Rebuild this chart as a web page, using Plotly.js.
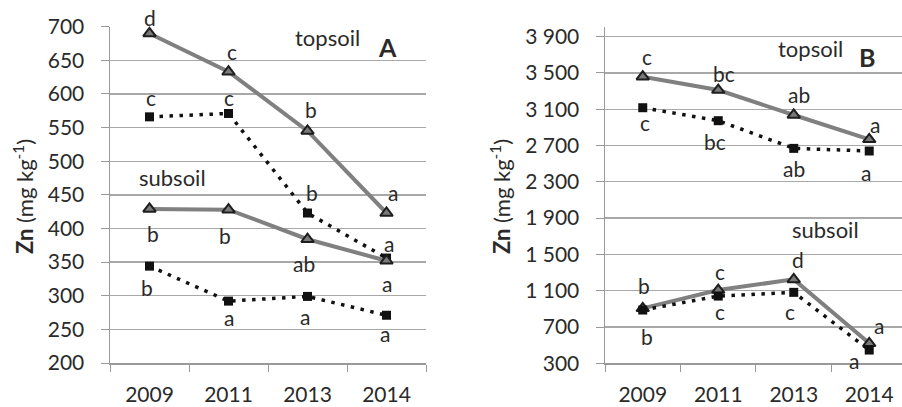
<!DOCTYPE html>
<html>
<head>
<meta charset="utf-8">
<script src="https://cdn.plot.ly/plotly-3.0.1.min.js"></script>
<style>html,body{margin:0;padding:0;background:#fff;}#chart{width:902px;height:407px;}</style>
</head>
<body>
<div id="chart"></div>
<script>
// ---- data ----
var years = ["2009", "2011", "2013", "2014"];

// Panel A (Zn, mg kg-1)
var aTopSolid = [690, 633, 545, 423];
var aTopDotted = [566, 571, 423, 356];
var aSubSolid = [429, 428, 384, 352];
var aSubDotted = [344, 292, 299, 271];

var aTopSolidLetters = ["d", "c", "b", "a"];
var aTopDottedLetters = ["c", "c", "b", "a"];
var aSubSolidLetters = ["b", "b", "ab", "a"];
var aSubDottedLetters = ["b", "a", "a", "a"];

// Panel B (Zn, mg kg-1)
var bTopSolid = [3459, 3312, 3037, 2769];
var bTopDotted = [3117, 2974, 2669, 2640];
var bSubSolid = [906, 1107, 1225, 520];
var bSubDotted = [887, 1041, 1082, 446];

var bTopSolidLetters = ["c", "bc", "ab", "a"];
var bTopDottedLetters = ["c", "bc", "ab", "a"];
var bSubSolidLetters = ["b", "c", "d", "a"];
var bSubDottedLetters = ["b", "c", "c", "a"];

var aTicks = [200, 250, 300, 350, 400, 450, 500, 550, 600, 650, 700];
var aTickText = ["200", "250", "300", "350", "400", "450", "500", "550", "600", "650", "700"];
var bTicks = [300, 700, 1100, 1500, 1900, 2300, 2700, 3100, 3500, 3900];
var bTickText = ["300", "700", "1 100", "1 500", "1 900", "2 300", "2 700", "3 100", "3 500", "3 900"];

// ---- label offsets (px) [xshift, yshift] ----
var offATopSolid = [[0, 16], [3, 20], [3, 21], [6, 21]];
var offATopDotted = [[1, 19], [0, 16], [4, 21], [2, 15]];
var offASubSolid = [[3, -25], [-4, -26], [-4, -24], [0, -23]];
var offASubDotted = [[-3, -21], [0, -16], [-3, -20], [-2, -18]];
var offBTopSolid = [[4, 20], [6, 17], [5, 20], [6, 15]];
var offBTopDotted = [[2, -15], [-3, -21], [0, -20], [-3, -21]];
var offBSubSolid = [[1, 23], [2, 19], [4, 20], [10, 18]];
var offBSubDotted = [[4, -26], [2, -15], [-4, -19], [-15, -10]];

var FONT = "Lato, 'Open Sans', sans-serif";
var TXT = "#2a2a2a";

function solid(y, xa, ya) {
  return {x: years, y: y, xaxis: xa, yaxis: ya, type: "scatter", mode: "lines+markers",
    line: {color: "#808080", width: 4},
    marker: {symbol: "triangle-up", size: 11, color: "#7a7a7a", line: {color: "#1e1e1e", width: 2}},
    cliponaxis: false, showlegend: false, hoverinfo: "skip"};
}
function dotted(y, xa, ya) {
  return {x: years, y: y, xaxis: xa, yaxis: ya, type: "scatter", mode: "lines+markers",
    line: {color: "#111", width: 3.5, dash: "3.5px,6.5px"},
    marker: {symbol: "square", size: 9, color: "#111"},
    cliponaxis: false, showlegend: false, hoverinfo: "skip"};
}

var data = [
  dotted(aTopDotted, "x", "y"), solid(aTopSolid, "x", "y"),
  dotted(aSubDotted, "x", "y"), solid(aSubSolid, "x", "y"),
  solid(bTopSolid, "x2", "y2"), dotted(bTopDotted, "x2", "y2"),
  solid(bSubSolid, "x2", "y2"), dotted(bSubDotted, "x2", "y2")
];

var annotations = [];
function letters(vals, lets, offs, xr, yr) {
  for (var i = 0; i < vals.length; i++) {
    annotations.push({x: i, y: vals[i], xref: xr, yref: yr, text: lets[i], showarrow: false,
      xshift: offs[i][0], yshift: offs[i][1], font: {family: FONT, size: 21, color: TXT},
      xanchor: "center", yanchor: "middle"});
  }
}
letters(aTopSolid, aTopSolidLetters, offATopSolid, "x", "y");
letters(aTopDotted, aTopDottedLetters, offATopDotted, "x", "y");
letters(aSubSolid, aSubSolidLetters, offASubSolid, "x", "y");
letters(aSubDotted, aSubDottedLetters, offASubDotted, "x", "y");
letters(bTopSolid, bTopSolidLetters, offBTopSolid, "x2", "y2");
letters(bTopDotted, bTopDottedLetters, offBTopDotted, "x2", "y2");
letters(bSubSolid, bSubSolidLetters, offBSubSolid, "x2", "y2");
letters(bSubDotted, bSubDottedLetters, offBSubDotted, "x2", "y2");

function txt(x, y, t, size) {
  annotations.push({x: x / 902, y: 1 - y / 407, xref: "paper", yref: "paper", text: t, showarrow: false,
    xanchor: "center", yanchor: "middle", font: {family: FONT, size: size, color: TXT}});
}
txt(327, 37, "topsoil", 22);
txt(387, 47, "<b>A</b>", 25);
txt(172, 177, "subsoil", 22);
txt(810, 49, "topsoil", 22);
txt(867, 57, "<b>B</b>", 25);
txt(825, 229, "subsoil", 22);

function ytitle(x) {
  annotations.push({x: x / 902, y: 1 - 197 / 407, xref: "paper", yref: "paper",
    text: "<b>Zn</b> (mg kg<sup>-1</sup>)", showarrow: false, textangle: -90,
    xanchor: "center", yanchor: "middle", font: {family: FONT, size: 22, color: TXT}});
}
ytitle(23);
ytitle(500);

var xCommon = {type: "category", tickson: "boundaries", ticks: "outside", ticklen: 7, tickcolor: "#999",
  showline: true, linecolor: "#999", linewidth: 1.5, showgrid: false, zeroline: false,
  tickfont: {family: FONT, size: 21, color: TXT}, ticklabelstandoff: 12, fixedrange: true};
var yCommon = {ticks: "outside", ticklen: 8, tickcolor: "#999", showline: true, linecolor: "#999", linewidth: 1.5,
  showgrid: true, gridcolor: "#a8a8a8", gridwidth: 1.3, zeroline: false, tickmode: "array",
  tickfont: {family: FONT, size: 21, color: TXT}, ticklabelstandoff: 12, fixedrange: true};

var layout = {
  width: 902, height: 407,
  margin: {l: 0, r: 0, t: 0, b: 0},
  paper_bgcolor: "#fff", plot_bgcolor: "#fff",
  showlegend: false,
  xaxis: Object.assign({}, xCommon, {domain: [110 / 902, 426 / 902], range: [-0.5, 3.5], anchor: "y"}),
  yaxis: Object.assign({}, yCommon, {domain: [1 - 363 / 407, 1 - 26.7 / 407], range: [200, 700],
    tickvals: aTicks, ticktext: aTickText, anchor: "x"}),
  xaxis2: Object.assign({}, xCommon, {domain: [605 / 902, 1], range: [-0.5, 3.434], anchor: "y2"}),
  yaxis2: Object.assign({}, yCommon, {domain: [1 - 363.3 / 407, 1 - 26.7 / 407], range: [300, 4010],
    tickvals: bTicks, ticktext: bTickText, anchor: "x2"}),
  annotations: annotations
};

Plotly.newPlot("chart", data, layout, {displayModeBar: false, staticPlot: true});
</script>
</body>
</html>
